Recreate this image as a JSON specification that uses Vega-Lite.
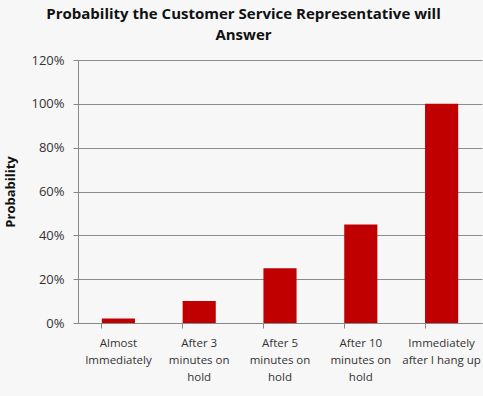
{
  "$schema": "https://vega.github.io/schema/vega-lite/v6.json",
  "width": 483,
  "height": 396,
  "autosize": {"type": "fit", "contains": "padding"},
  "padding": {"left": 4, "top": 7, "right": 1, "bottom": 13},
  "background": "#f7f7f7",
  "title": {
    "text": ["Probability the Customer Service Representative will", "Answer"],
    "font": "Open Sans",
    "fontSize": 15,
    "fontWeight": "bold",
    "color": "#111111",
    "anchor": "middle",
    "frame": "bounds",
    "lineHeight": 21,
    "offset": 11
  },
  "data": {
    "values": [
      {"when": "Almost|Immediately", "p": 0.02},
      {"when": "After 3|minutes on|hold", "p": 0.10},
      {"when": "After 5|minutes on|hold", "p": 0.25},
      {"when": "After 10|minutes on|hold", "p": 0.45},
      {"when": "Immediately|after I hang  up", "p": 1.0}
    ]
  },
  "mark": {"type": "bar", "color": "#c00000"},
  "encoding": {
    "x": {
      "field": "when",
      "type": "nominal",
      "sort": null,
      "scale": {"paddingInner": 0.59, "paddingOuter": 0.295},
      "axis": {
        "title": null,
        "labelAngle": 0,
        "labelExpr": "split(datum.label, '|')",
        "labelFont": "Open Sans",
        "labelFontSize": 11.5,
        "labelColor": "#333333",
        "labelLineHeight": 17,
        "labelPadding": 9,
        "labelLimit": 120,
        "domainColor": "#888888",
        "tickColor": "#888888",
        "tickSize": 5,
        "bandPosition": 0
      }
    },
    "y": {
      "field": "p",
      "type": "quantitative",
      "scale": {"domain": [0, 1.2]},
      "axis": {
        "title": "Probability",
        "titleFont": "Open Sans",
        "titleFontSize": 13,
        "titleFontWeight": "bold",
        "titleColor": "#111111",
        "titlePadding": 13,
        "format": ".0%",
        "values": [0, 0.2, 0.4, 0.6, 0.8, 1.0, 1.2],
        "labelFont": "Open Sans",
        "labelFontSize": 13,
        "labelColor": "#333333",
        "labelPadding": 9,
        "domainColor": "#888888",
        "tickColor": "#888888",
        "tickSize": 5,
        "grid": true,
        "gridColor": "#8c8c8c",
        "gridWidth": 1
      }
    }
  },
  "config": {"view": {"stroke": null}}
}
